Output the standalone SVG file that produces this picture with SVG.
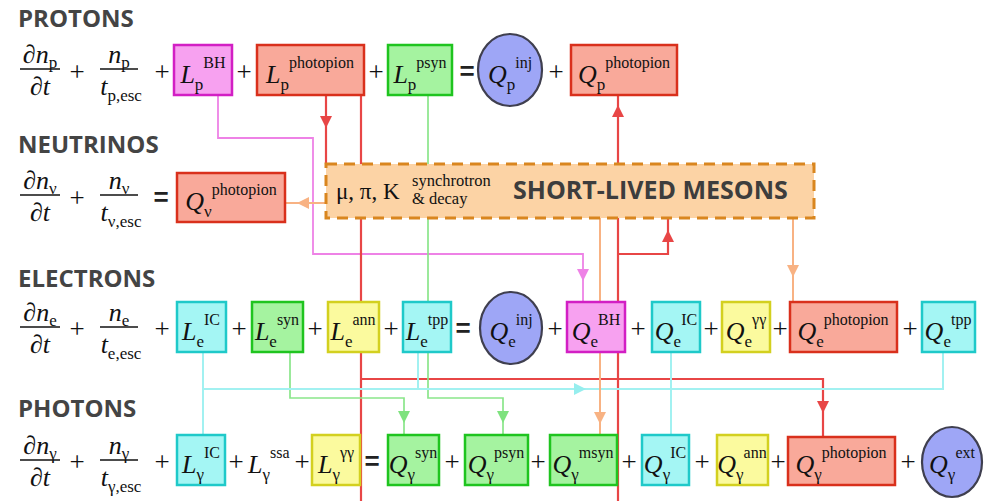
<svg xmlns="http://www.w3.org/2000/svg" width="993" height="501" viewBox="0 0 993 501">
<style>
.lbl{font-family:"Open Sans","Liberation Sans",sans-serif;font-weight:700;font-size:24px;fill:#444}
.m{font-family:"Liberation Serif",serif;font-size:26px;fill:#111}
.i{font-style:italic}
.sb{font-size:17px}
.sp{font-size:16px}
.op{font-family:"Liberation Serif",serif;font-size:27px;fill:#111;text-anchor:middle}
.eq{font-family:"Liberation Sans",sans-serif;font-weight:700;font-size:26px;fill:#222;text-anchor:middle}
.fl{stroke:#111;stroke-width:1.3}
.pink{fill:#f7a1f0;stroke:#d21fc4;stroke-width:2.5}
.red{fill:#f9a99a;stroke:#d9301c;stroke-width:2.5}
.green{fill:#a5f3a0;stroke:#1fc41f;stroke-width:2.5}
.cyan{fill:#a4f6f4;stroke:#1fc9c9;stroke-width:2.5}
.yellow{fill:#fbfa9e;stroke:#d3d01f;stroke-width:2.5}
.blue{fill:#9ea6f6;stroke:#3f3f4f;stroke-width:2.2}
.mes{fill:#fcd3a5;stroke:#d9861f;stroke-width:3;stroke-dasharray:11 7}
.mk{font-family:"Liberation Serif",serif;font-size:23px;fill:#111}
.ms{font-family:"Liberation Serif",serif;font-size:16.5px;fill:#111}
.mt{font-family:"Open Sans","Liberation Sans",sans-serif;font-weight:700;font-size:25px;fill:#3d3d3d}
.cp{stroke:#ee82e6;stroke-width:1.8}
.cr{stroke:#e84646;stroke-width:2.2}
.cg{stroke:#8ae68a;stroke-width:1.7}
.cc{stroke:#a2f1f1;stroke-width:2}
.co{stroke:#f8b283;stroke-width:2}
</style>
<defs>
<marker id="a-pink" markerUnits="userSpaceOnUse" markerWidth="12" markerHeight="12" viewBox="0 0 12 12" refX="12" refY="6" orient="auto"><path d="M0,0 L12,6 L0,12 Z" fill="#ee82e6"/></marker>
<marker id="a-red" markerUnits="userSpaceOnUse" markerWidth="12" markerHeight="12" viewBox="0 0 12 12" refX="12" refY="6" orient="auto"><path d="M0,0 L12,6 L0,12 Z" fill="#e84646"/></marker>
<marker id="a-green" markerUnits="userSpaceOnUse" markerWidth="12" markerHeight="12" viewBox="0 0 12 12" refX="12" refY="6" orient="auto"><path d="M0,0 L12,6 L0,12 Z" fill="#7ee27e"/></marker>
<marker id="a-cyan" markerUnits="userSpaceOnUse" markerWidth="12" markerHeight="12" viewBox="0 0 12 12" refX="12" refY="6" orient="auto"><path d="M0,0 L12,6 L0,12 Z" fill="#96eeee"/></marker>
<marker id="a-orange" markerUnits="userSpaceOnUse" markerWidth="12" markerHeight="12" viewBox="0 0 12 12" refX="12" refY="6" orient="auto"><path d="M0,0 L12,6 L0,12 Z" fill="#f8b283"/></marker>
</defs>
<rect width="993" height="501" fill="#fff"/>

<g id="connectors" fill="none">
<path class="cp" d="M218,95 V138 H313 V254 H583 V281" marker-end="url(#a-pink)"/>
<path class="cp" d="M583,281 V302"/>
<path class="cr" d="M326,95 V128" marker-end="url(#a-red)"/>
<path class="cr" d="M326,128 V164"/>
<path class="cr" d="M361,95 V501"/>
<path class="cr" d="M361,379 H823 V413" marker-end="url(#a-red)"/>
<path class="cr" d="M823,413 V437"/>
<path class="cr" d="M618,501 V105" marker-end="url(#a-red)"/>
<path class="cr" d="M618,105 V95"/>
<path class="cr" d="M618,254 H668 V230" marker-end="url(#a-red)"/>
<path class="cr" d="M668,230 V218"/>
<path class="cg" d="M428,95 V302"/>
<path class="cg" d="M428,352 V398 H503 V423" marker-end="url(#a-green)"/>
<path class="cg" d="M503,423 V435"/>
<path class="cg" d="M290,352 V398 H404 V423" marker-end="url(#a-green)"/>
<path class="cg" d="M404,423 V435"/>
<path class="cc" d="M203,352 V435"/>
<path class="cc" d="M203,389 H586" marker-end="url(#a-cyan)"/>
<path class="cc" d="M586,389 H943 V352"/>
<path class="cc" d="M418,352 V389"/>
<path class="cc" d="M671,352 V435"/>
<path class="co" d="M326,203 H297" marker-end="url(#a-orange)"/>
<path class="co" d="M297,203 H285"/>
<path class="co" d="M600,218 V424" marker-end="url(#a-orange)"/>
<path class="co" d="M600,424 V435"/>
<path class="co" d="M793,218 V277" marker-end="url(#a-orange)"/>
<path class="co" d="M793,277 V302"/>
</g>

<!-- Labels -->
<text class="lbl" x="18" y="27">PROTONS</text>
<text class="lbl" x="18" y="153">NEUTRINOS</text>
<text class="lbl" x="18" y="287">ELECTRONS</text>
<text class="lbl" x="18" y="417">PHOTONS</text>

<!-- Row 1: protons -->
<g id="protons-lhs">
<text class="m" x="40" y="63" text-anchor="middle"><tspan class="i">∂n</tspan><tspan class="sb" dy="5">p</tspan></text>
<line class="fl" x1="20" y1="69" x2="60" y2="69"/>
<text class="m" x="40" y="95" text-anchor="middle"><tspan class="i">∂t</tspan></text>
<text class="op" x="77" y="81">+</text>
<text class="m" x="119" y="63" text-anchor="middle"><tspan class="i">n</tspan><tspan class="sb" dy="5">p</tspan></text>
<line class="fl" x1="100" y1="69" x2="138" y2="69"/>
<text class="m" x="121" y="95" text-anchor="middle"><tspan class="i">t</tspan><tspan class="sb" dy="6">p,esc</tspan></text>
<text class="op" x="162" y="81">+</text>
<text class="op" x="244" y="81">+</text>
<text class="op" x="376" y="81">+</text>
<text class="eq" x="467" y="80">=</text>
<text class="op" x="556" y="81">+</text>
</g>
<g id="Lp-BH"><rect class="pink" x="174" y="45" width="58" height="50"/>
<text class="m" x="203" y="83" text-anchor="middle"><tspan class="i">L</tspan><tspan class="sb" dy="7">p</tspan><tspan class="sp" dy="-22">BH</tspan></text></g>
<g id="Lp-photopion"><rect class="red" x="257" y="45" width="107" height="50"/>
<text class="m" x="310" y="83" text-anchor="middle"><tspan class="i">L</tspan><tspan class="sb" dy="7">p</tspan><tspan class="sp" dy="-22">photopion</tspan></text></g>
<g id="Lp-psyn"><rect class="green" x="388" y="45" width="64" height="50"/>
<text class="m" x="420" y="83" text-anchor="middle"><tspan class="i">L</tspan><tspan class="sb" dy="7">p</tspan><tspan class="sp" dy="-22">psyn</tspan></text></g>
<g id="Qp-inj"><ellipse class="blue" cx="510" cy="70" rx="32" ry="36"/>
<text class="m" x="510" y="83" text-anchor="middle"><tspan class="i">Q</tspan><tspan class="sb" dy="7">p</tspan><tspan class="sp" dy="-22">inj</tspan></text></g>
<g id="Qp-photopion"><rect class="red" x="571" y="45" width="106" height="50"/>
<text class="m" x="624" y="83" text-anchor="middle"><tspan class="i">Q</tspan><tspan class="sb" dy="7">p</tspan><tspan class="sp" dy="-22">photopion</tspan></text></g>

<!-- Row 2: neutrinos -->
<g id="neutrinos-lhs">
<text class="m" x="40" y="189" text-anchor="middle"><tspan class="i">∂n</tspan><tspan class="sb" dy="5">ν</tspan></text>
<line class="fl" x1="20" y1="195" x2="60" y2="195"/>
<text class="m" x="40" y="221" text-anchor="middle"><tspan class="i">∂t</tspan></text>
<text class="op" x="77" y="207">+</text>
<text class="m" x="119" y="189" text-anchor="middle"><tspan class="i">n</tspan><tspan class="sb" dy="5">ν</tspan></text>
<line class="fl" x1="100" y1="195" x2="138" y2="195"/>
<text class="m" x="121" y="221" text-anchor="middle"><tspan class="i">t</tspan><tspan class="sb" dy="6">ν,esc</tspan></text>
<text class="eq" x="161" y="206">=</text>
</g>
<g id="Qv-photopion"><rect class="red" x="177" y="173" width="108" height="49"/>
<text class="m" x="231" y="210" text-anchor="middle"><tspan class="i">Q</tspan><tspan class="sb" dy="7">ν</tspan><tspan class="sp" dy="-22">photopion</tspan></text></g>

<g id="mesons"><rect class="mes" x="326" y="164" width="488" height="54"/>
<text class="mk" x="336" y="199">μ, π, K</text>
<text class="ms" x="412" y="186">synchrotron</text>
<text class="ms" x="412" y="204">&amp; decay</text>
<text class="mt" x="513" y="199">SHORT-LIVED MESONS</text></g>

<!-- Row 3: electrons -->
<g id="electrons-lhs">
<text class="m" x="40" y="321" text-anchor="middle"><tspan class="i">∂n</tspan><tspan class="sb" dy="5">e</tspan></text>
<line class="fl" x1="20" y1="327" x2="60" y2="327"/>
<text class="m" x="40" y="353" text-anchor="middle"><tspan class="i">∂t</tspan></text>
<text class="op" x="77" y="338">+</text>
<text class="m" x="119" y="321" text-anchor="middle"><tspan class="i">n</tspan><tspan class="sb" dy="5">e</tspan></text>
<line class="fl" x1="100" y1="327" x2="138" y2="327"/>
<text class="m" x="121" y="353" text-anchor="middle"><tspan class="i">t</tspan><tspan class="sb" dy="6">e,esc</tspan></text>
<text class="op" x="162" y="338">+</text>
<text class="op" x="239" y="338">+</text>
<text class="op" x="315" y="338">+</text>
<text class="op" x="391" y="338">+</text>
<text class="eq" x="463" y="337">=</text>
<text class="op" x="555" y="338">+</text>
<text class="op" x="638" y="338">+</text>
<text class="op" x="711" y="338">+</text>
<text class="op" x="780" y="338">+</text>
<text class="op" x="910" y="338">+</text>
</g>
<g id="Le-IC"><rect class="cyan" x="177" y="302" width="49" height="50"/>
<text class="m" x="201" y="340" text-anchor="middle"><tspan class="i">L</tspan><tspan class="sb" dy="7">e</tspan><tspan class="sp" dy="-22">IC</tspan></text></g>
<g id="Le-syn"><rect class="green" x="252" y="302" width="51" height="50"/>
<text class="m" x="277" y="340" text-anchor="middle"><tspan class="i">L</tspan><tspan class="sb" dy="7">e</tspan><tspan class="sp" dy="-22">syn</tspan></text></g>
<g id="Le-ann"><rect class="yellow" x="328" y="302" width="51" height="50"/>
<text class="m" x="353" y="340" text-anchor="middle"><tspan class="i">L</tspan><tspan class="sb" dy="7">e</tspan><tspan class="sp" dy="-22">ann</tspan></text></g>
<g id="Le-tpp"><rect class="cyan" x="403" y="302" width="48" height="50"/>
<text class="m" x="427" y="340" text-anchor="middle"><tspan class="i">L</tspan><tspan class="sb" dy="7">e</tspan><tspan class="sp" dy="-22">tpp</tspan></text></g>
<g id="Qe-inj"><ellipse class="blue" cx="511" cy="328" rx="31" ry="36"/>
<text class="m" x="511" y="340" text-anchor="middle"><tspan class="i">Q</tspan><tspan class="sb" dy="7">e</tspan><tspan class="sp" dy="-22">inj</tspan></text></g>
<g id="Qe-BH"><rect class="pink" x="567" y="302" width="58" height="50"/>
<text class="m" x="596" y="340" text-anchor="middle"><tspan class="i">Q</tspan><tspan class="sb" dy="7">e</tspan><tspan class="sp" dy="-22">BH</tspan></text></g>
<g id="Qe-IC"><rect class="cyan" x="652" y="302" width="48" height="50"/>
<text class="m" x="676" y="340" text-anchor="middle"><tspan class="i">Q</tspan><tspan class="sb" dy="7">e</tspan><tspan class="sp" dy="-22">IC</tspan></text></g>
<g id="Qe-gg"><rect class="yellow" x="722" y="302" width="48" height="50"/>
<text class="m" x="746" y="340" text-anchor="middle"><tspan class="i">Q</tspan><tspan class="sb" dy="7">e</tspan><tspan class="sp" dy="-22">γγ</tspan></text></g>
<g id="Qe-photopion"><rect class="red" x="790" y="302" width="107" height="50"/>
<text class="m" x="843" y="340" text-anchor="middle"><tspan class="i">Q</tspan><tspan class="sb" dy="7">e</tspan><tspan class="sp" dy="-22">photopion</tspan></text></g>
<g id="Qe-tpp"><rect class="cyan" x="922" y="302" width="53" height="50"/>
<text class="m" x="948" y="340" text-anchor="middle"><tspan class="i">Q</tspan><tspan class="sb" dy="7">e</tspan><tspan class="sp" dy="-22">tpp</tspan></text></g>

<!-- Row 4: photons -->
<g id="photons-lhs">
<text class="m" x="40" y="454" text-anchor="middle"><tspan class="i">∂n</tspan><tspan class="sb" dy="5">γ</tspan></text>
<line class="fl" x1="20" y1="460" x2="60" y2="460"/>
<text class="m" x="40" y="486" text-anchor="middle"><tspan class="i">∂t</tspan></text>
<text class="op" x="77" y="471">+</text>
<text class="m" x="119" y="454" text-anchor="middle"><tspan class="i">n</tspan><tspan class="sb" dy="5">γ</tspan></text>
<line class="fl" x1="100" y1="460" x2="138" y2="460"/>
<text class="m" x="121" y="486" text-anchor="middle"><tspan class="i">t</tspan><tspan class="sb" dy="6">γ,esc</tspan></text>
<text class="op" x="162" y="471">+</text>
<text class="op" x="236" y="471">+</text>
<text class="m" x="248" y="473"><tspan class="i">L</tspan><tspan class="sb" dy="7">γ</tspan><tspan class="sp" dy="-22">ssa</tspan></text>
<text class="op" x="302" y="471">+</text>
<text class="eq" x="372" y="470">=</text>
<text class="op" x="452" y="471">+</text>
<text class="op" x="538" y="471">+</text>
<text class="op" x="629" y="471">+</text>
<text class="op" x="702" y="471">+</text>
<text class="op" x="778" y="471">+</text>
<text class="op" x="908" y="471">+</text>
</g>
<g id="Lg-IC"><rect class="cyan" x="177" y="435" width="48" height="50"/>
<text class="m" x="201" y="473" text-anchor="middle"><tspan class="i">L</tspan><tspan class="sb" dy="7">γ</tspan><tspan class="sp" dy="-22">IC</tspan></text></g>
<g id="Lg-gg"><rect class="yellow" x="312" y="435" width="48" height="50"/>
<text class="m" x="336" y="473" text-anchor="middle"><tspan class="i">L</tspan><tspan class="sb" dy="7">γ</tspan><tspan class="sp" dy="-22">γγ</tspan></text></g>
<g id="Qg-syn"><rect class="green" x="388" y="435" width="51" height="50"/>
<text class="m" x="413" y="473" text-anchor="middle"><tspan class="i">Q</tspan><tspan class="sb" dy="7">γ</tspan><tspan class="sp" dy="-22">syn</tspan></text></g>
<g id="Qg-psyn"><rect class="green" x="465" y="435" width="63" height="50"/>
<text class="m" x="496" y="473" text-anchor="middle"><tspan class="i">Q</tspan><tspan class="sb" dy="7">γ</tspan><tspan class="sp" dy="-22">psyn</tspan></text></g>
<g id="Qg-msyn"><rect class="green" x="550" y="435" width="67" height="50"/>
<text class="m" x="583" y="473" text-anchor="middle"><tspan class="i">Q</tspan><tspan class="sb" dy="7">γ</tspan><tspan class="sp" dy="-22">msyn</tspan></text></g>
<g id="Qg-IC"><rect class="cyan" x="642" y="435" width="47" height="50"/>
<text class="m" x="665" y="473" text-anchor="middle"><tspan class="i">Q</tspan><tspan class="sb" dy="7">γ</tspan><tspan class="sp" dy="-22">IC</tspan></text></g>
<g id="Qg-ann"><rect class="yellow" x="717" y="435" width="51" height="50"/>
<text class="m" x="742" y="473" text-anchor="middle"><tspan class="i">Q</tspan><tspan class="sb" dy="7">γ</tspan><tspan class="sp" dy="-22">ann</tspan></text></g>
<g id="Qg-photopion"><rect class="red" x="788" y="437" width="107" height="48"/>
<text class="m" x="841" y="473" text-anchor="middle"><tspan class="i">Q</tspan><tspan class="sb" dy="7">γ</tspan><tspan class="sp" dy="-22">photopion</tspan></text></g>
<g id="Qg-ext"><ellipse class="blue" cx="952" cy="462" rx="30" ry="35"/>
<text class="m" x="952" y="473" text-anchor="middle"><tspan class="i">Q</tspan><tspan class="sb" dy="7">γ</tspan><tspan class="sp" dy="-22">ext</tspan></text></g>
</svg>
